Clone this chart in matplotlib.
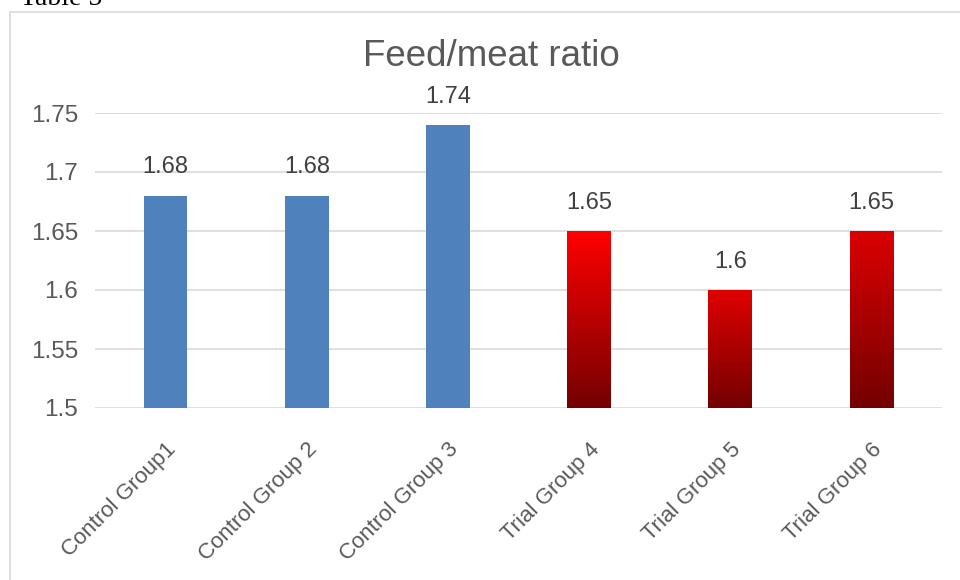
import matplotlib
matplotlib.use("Agg")
import matplotlib.pyplot as plt
import numpy as np
from matplotlib.patches import Rectangle
from matplotlib.colors import LinearSegmentedColormap

categories = ["Control Group1", "Control Group 2", "Control Group 3",
              "Trial Group 4", "Trial Group 5", "Trial Group 6"]
values = [1.68, 1.68, 1.74, 1.65, 1.60, 1.65]
yticks = [1.5, 1.55, 1.6, 1.65, 1.7, 1.75]
ytick_labels = ["1.5", "1.55", "1.6", "1.65", "1.7", "1.75"]
value_labels = ["1.68", "1.68", "1.74", "1.65", "1.6", "1.65"]

W, H = 960, 580
fig = plt.figure(figsize=(W / 100, H / 100), dpi=100)
plt.rcParams['font.family'] = ['Liberation Sans', 'DejaVu Sans']

# chart border
fig.patches.append(Rectangle((9.5 / W, -0.1), 1.2, 1 - 11.5 / H + 0.1,
                             transform=fig.transFigure, fill=False,
                             edgecolor='#d9d9d9', linewidth=1.2))
# caption partially visible above chart (cut off in the reference too)
fig.text(20 / W, 1 - 5 / H, "Table 5", family='Liberation Serif',
         fontsize=20, va='baseline', ha='left', color='black')

left, right, top, bottom = 95, 942, 113, 408
ax = fig.add_axes([left / W, 1 - bottom / H, (right - left) / W, (bottom - top) / H])

x = np.arange(len(categories))
bw = 0.31
blue = '#4f81bd'
grad_tops = [None, None, None, '#ff0000', '#e00000', '#dc0000']
grad_bottom = '#730000'

ax.set_ylim(1.5, 1.75)
ax.set_xlim(-0.5, len(categories) - 0.5)

bars = ax.bar(x, [v - 1.5 for v in values], bottom=1.5, width=bw, color=blue, zorder=2)
for i, b in enumerate(bars):
    if grad_tops[i] is not None:
        b.set_facecolor('none')
        b.set_edgecolor('none')
        cmap = LinearSegmentedColormap.from_list('g', [grad_bottom, grad_tops[i]])
        grad = np.linspace(0, 1, 256).reshape(-1, 1)
        im = ax.imshow(grad, cmap=cmap, origin='lower', aspect='auto',
                       extent=[x[i] - bw / 2, x[i] + bw / 2, 1.5, values[i]],
                       zorder=2)
        im.set_clip_path(b)

ax.set_xlim(-0.5, len(categories) - 0.5)
ax.set_ylim(1.5, 1.75)

for xi, v, lab in zip(x, values, value_labels):
    ax.annotate(lab, (xi, v), xytext=(0, 16), textcoords='offset points',
                ha='center', va='baseline', fontsize=17, color='#404040',
                annotation_clip=False)

ax.set_yticks(yticks)
ax.set_yticklabels(ytick_labels)
ax.set_xticks(x)
ax.set_xticklabels(categories, rotation=45, ha='right', rotation_mode='anchor')
ax.tick_params(axis='y', length=0, labelsize=17.5, colors='#595959', pad=12)
ax.tick_params(axis='x', length=0, labelsize=16, colors='#595959', pad=22)
ax.grid(axis='y', color='#d9d9d9', linewidth=1.2, zorder=0)
ax.set_axisbelow(True)
for s in ax.spines.values():
    s.set_visible(False)

fig.text(491 / W, 1 - 56 / H, "Feed/meat ratio", ha='center', va='center',
         fontsize=26.5, color='#595959')

fig.savefig("out.png", dpi=100)
